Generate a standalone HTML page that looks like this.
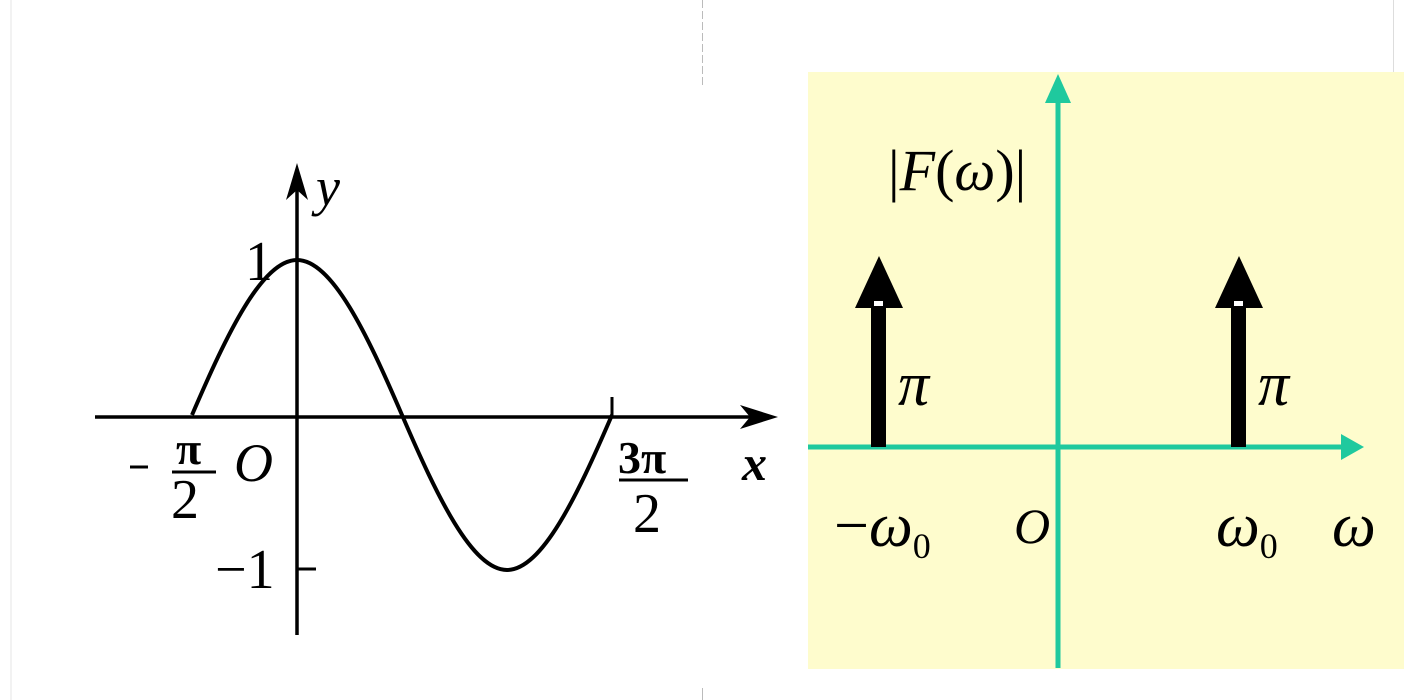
<!DOCTYPE html>
<html><head><meta charset="utf-8"><style>
html,body{margin:0;padding:0;background:#fff;}
svg{display:block;}
text{font-family:"Liberation Serif",serif;}
</style></head><body>
<svg width="1410" height="700" viewBox="0 0 1410 700" xmlns="http://www.w3.org/2000/svg">
<rect width="1410" height="700" fill="#fff"/>
<line x1="11" y1="0" x2="11" y2="700" stroke="#e4e4e4" stroke-width="1"/>
<line x1="702.5" y1="0" x2="702.5" y2="88" stroke="#bbb" stroke-width="1" stroke-dasharray="8,3"/>
<line x1="702.5" y1="688" x2="702.5" y2="700" stroke="#bbb" stroke-width="1"/>
<line x1="1393.5" y1="0" x2="1393.5" y2="72" stroke="#ddd" stroke-width="1"/>
<!-- Left plot -->
<g stroke="#000" fill="none">
<line x1="95" y1="417" x2="765" y2="417" stroke-width="3.5"/>
<polygon points="778,417 740,405 750,417 740,429" fill="#000" stroke="none"/>
<line x1="297" y1="635" x2="297" y2="180" stroke-width="3.5"/>
<polygon points="297,163 286,200 297,190 308,200" fill="#000" stroke="none"/>
<line x1="612" y1="397" x2="612" y2="417" stroke-width="3"/>
<line x1="297" y1="569" x2="316" y2="569" stroke-width="3"/>
<path stroke-width="4" d="M192,415 C227,333.8 262,260 297,260 C332,260 367,333.8 402,415 C437,496.2 472,570 507,570 C542,570 577,496.2 612,415"/>
<line x1="172" y1="472" x2="216" y2="472" stroke-width="3"/>
<line x1="619" y1="480" x2="688" y2="480" stroke-width="3"/>
<line x1="130" y1="467" x2="148" y2="467" stroke-width="3"/>
</g>
<g fill="#000">
<text x="316" y="205" font-size="54" font-style="italic">y</text>
<text x="245" y="280" font-size="56">1</text>
<text x="742" y="480" font-size="50" font-style="italic" font-weight="bold">x</text>
<text x="234" y="481" font-size="54" font-style="italic">O</text>
<text x="176" y="464" font-size="46" font-weight="bold">π</text>
<text x="171" y="518" font-size="56">2</text>
<text x="618" y="473" font-size="46" font-weight="bold">3π</text>
<text x="633" y="532" font-size="56">2</text>
<text x="215" y="588" font-size="56">−1</text>
</g>
<!-- Right plot -->
<rect x="808" y="72" width="596" height="597" fill="#fefccd"/>
<g stroke="#1fc99e" fill="none">
<line x1="1058" y1="668" x2="1058" y2="92" stroke-width="5"/>
<line x1="808" y1="447" x2="1350" y2="447" stroke-width="5"/>
</g>
<polygon points="1058,74 1045,103 1071,103" fill="#1fc99e"/>
<polygon points="1364,447 1341,434 1341,460" fill="#1fc99e"/>
<g fill="#000">
<rect x="871" y="302" width="15" height="145"/>
<polygon points="879,256 855,308 903,308"/>
<rect x="874" y="301" width="9" height="5" fill="#fff"/>
<rect x="1231" y="302" width="15" height="145"/>
<polygon points="1239,256 1215,308 1263,308"/>
<rect x="1234" y="301" width="9" height="5" fill="#fff"/>
<text x="898" y="405" font-size="62" font-style="italic">π</text>
<text x="1258" y="405" font-size="62" font-style="italic">π</text>
<text x="888" y="190" font-size="58">|<tspan font-style="italic">F</tspan>(<tspan font-style="italic">ω</tspan>)|</text>
<text x="834" y="546" font-size="62">−<tspan font-style="italic">ω</tspan><tspan font-size="36" dy="12">0</tspan></text>
<text x="1014" y="543" font-size="50" font-style="italic">O</text>
<text x="1216" y="546" font-size="62" font-style="italic">ω<tspan font-size="36" dy="12" font-style="normal">0</tspan></text>
<text x="1332" y="546" font-size="62" font-style="italic">ω</text>
</g>
</svg>
</body></html>
